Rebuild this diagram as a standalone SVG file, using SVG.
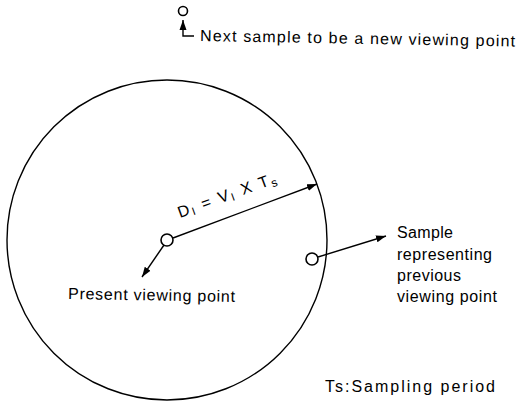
<svg xmlns="http://www.w3.org/2000/svg" width="517" height="403" viewBox="0 0 517 403">
<defs>
<marker id="ah" viewBox="0 0 10 10" refX="10" refY="5" markerWidth="10" markerHeight="10" markerUnits="userSpaceOnUse" orient="auto">
<path d="M0,1.5 L10,5 L0,8.5 Z" fill="#000"/>
</marker>
</defs>
<style>
.ln{fill:none;stroke:#000;stroke-width:1.4}
.pt{fill:#fff;stroke:#000;stroke-width:1.6}
.t{font-family:"Liberation Sans",Arial,sans-serif;font-size:16px;fill:#000}
</style>
<rect width="517" height="403" fill="#fff"/>
<g id="range">
<circle cx="167" cy="240" r="160" class="ln" stroke-width="1.6"/>
</g>
<g id="connectors">
<path d="M173,238 L317,184" class="ln" marker-end="url(#ah)"/>
<path d="M164,245 L142,277" class="ln" marker-end="url(#ah)"/>
<path d="M318,257 L386,236" class="ln" marker-end="url(#ah)"/>
<path d="M194,36 L183,36 L183,20" class="ln" marker-end="url(#ah)"/>
</g>
<g id="next">
<circle cx="183" cy="11" r="4.5" class="pt"/>
<text class="t" x="200" y="41" textLength="315" lengthAdjust="spacing" transform="rotate(1 200 41)">Next sample to be a new viewing point</text>
</g>
<g id="present">
<circle cx="167" cy="240" r="6" class="pt"/>
<text class="t" x="68" y="299" textLength="167" lengthAdjust="spacing" transform="rotate(1 68 299)">Present viewing point</text>
</g>
<g id="previous">
<circle cx="312" cy="259" r="6" class="pt"/>
<text class="t" x="397" y="238" textLength="56" lengthAdjust="spacing">Sample</text>
<text class="t" x="397" y="260" textLength="95" lengthAdjust="spacing">representing</text>
<text class="t" x="397" y="281" textLength="64" lengthAdjust="spacing">previous</text>
<text class="t" x="397" y="302" textLength="100" lengthAdjust="spacing">viewing point</text>
</g>
<g id="formula">
<text class="t" font-size="21" x="180" y="218" transform="rotate(-20 180 218)" letter-spacing="2">D<tspan font-size="11" dy="2">I</tspan><tspan dy="-2"> = V</tspan><tspan font-size="11" dy="2">I</tspan><tspan dy="-2"> X T</tspan><tspan font-size="12" dy="3">s</tspan></text>
</g>
<g id="legend">
<text class="t" font-size="16" x="325" y="392" textLength="170" lengthAdjust="spacing">Ts:Sampling period</text>
</g>
</svg>
